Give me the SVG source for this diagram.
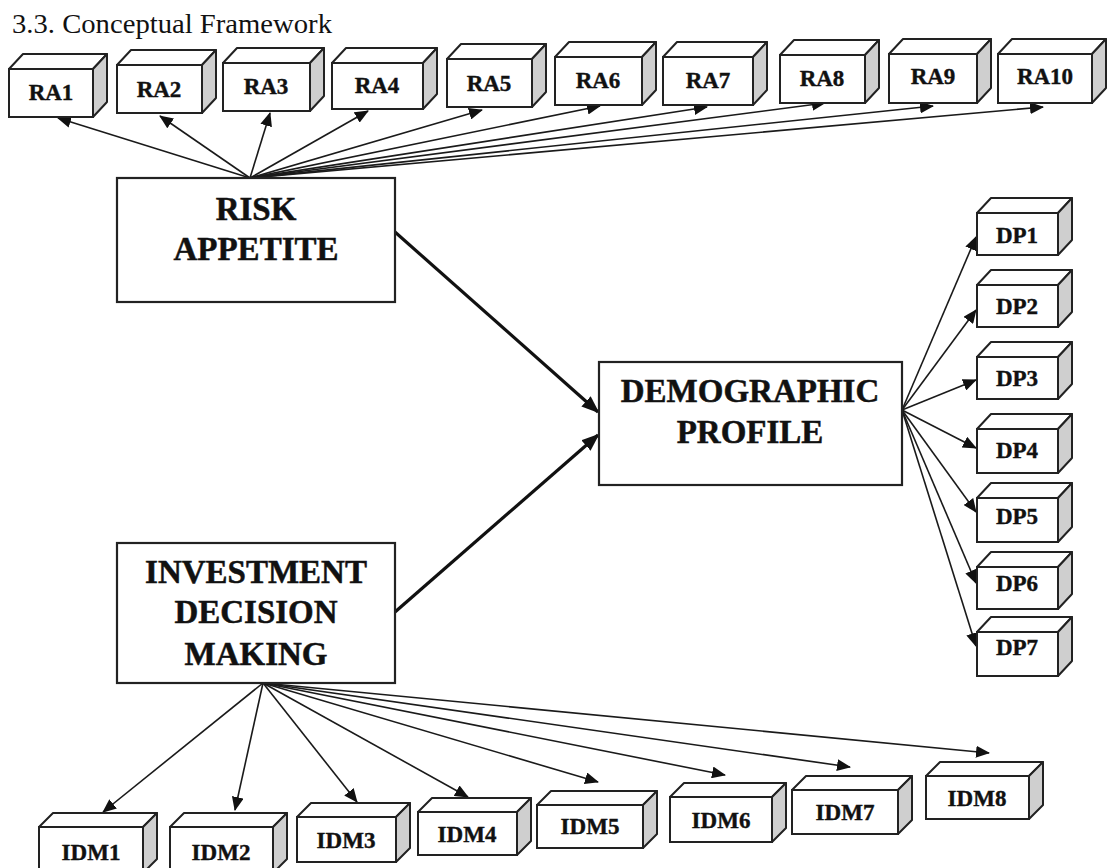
<svg xmlns="http://www.w3.org/2000/svg" width="1107" height="868" viewBox="0 0 1107 868">
<style>
.bg{fill:#fff}
.front{fill:#fff;stroke:#222;stroke-width:2}
.top{fill:#fff;stroke:#222;stroke-width:2;stroke-linejoin:round}
.side{fill:#cfcfcf;stroke:#222;stroke-width:2;stroke-linejoin:round}
.main{fill:#fff;stroke:#222;stroke-width:2.2}
.lbl{font-family:"Liberation Serif","Times New Roman",serif;font-weight:bold;font-size:23px;fill:#111;stroke:#111;stroke-width:0.4;text-anchor:middle}
.big{font-family:"Liberation Serif","Times New Roman",serif;font-weight:bold;font-size:33px;fill:#111;stroke:#111;stroke-width:0.5;text-anchor:middle}
.title{font-family:"Liberation Serif","Times New Roman",serif;font-size:28px;fill:#111}
.thin{stroke:#1a1a1a;stroke-width:1.6;fill:none;marker-end:url(#ah)}
.thick{stroke:#111;stroke-width:3.2;fill:none;marker-end:url(#ahb)}
</style>
<defs>
<marker id="ah" markerUnits="userSpaceOnUse" markerWidth="14" markerHeight="12" refX="13" refY="6" orient="auto">
<path d="M0,0 L14,6 L0,12 z" fill="#111"/>
</marker>
<marker id="ahb" markerUnits="userSpaceOnUse" markerWidth="18" markerHeight="14" refX="16" refY="7" orient="auto">
<path d="M0,0 L18,7 L0,14 z" fill="#111"/>
</marker>
</defs>
<rect class="bg" x="0" y="0" width="1107" height="868"/>
<text class="title" x="12" y="33" textLength="320" lengthAdjust="spacingAndGlyphs">3.3. Conceptual Framework</text>

<g id="connectors">
<line class="thin" x1="250" y1="178" x2="58" y2="118"/>
<line class="thin" x1="250" y1="178" x2="160" y2="116"/>
<line class="thin" x1="250" y1="178" x2="270" y2="113"/>
<line class="thin" x1="250" y1="178" x2="368" y2="111"/>
<line class="thin" x1="250" y1="178" x2="482" y2="110"/>
<line class="thin" x1="250" y1="178" x2="600" y2="106"/>
<line class="thin" x1="250" y1="178" x2="707" y2="107"/>
<line class="thin" x1="250" y1="178" x2="825" y2="103"/>
<line class="thin" x1="250" y1="178" x2="933" y2="106"/>
<line class="thin" x1="250" y1="178" x2="1043" y2="107"/>
<line class="thick" x1="395" y1="232" x2="598" y2="412"/>
<line class="thick" x1="395" y1="612" x2="598" y2="435"/>
<line class="thin" x1="902" y1="410" x2="976" y2="237"/>
<line class="thin" x1="902" y1="410" x2="976" y2="310"/>
<line class="thin" x1="902" y1="410" x2="976" y2="380"/>
<line class="thin" x1="902" y1="410" x2="976" y2="448"/>
<line class="thin" x1="902" y1="410" x2="976" y2="512"/>
<line class="thin" x1="902" y1="410" x2="976" y2="583"/>
<line class="thin" x1="902" y1="410" x2="976" y2="646"/>
<line class="thin" x1="263" y1="683" x2="103" y2="812"/>
<line class="thin" x1="263" y1="683" x2="235" y2="810"/>
<line class="thin" x1="263" y1="683" x2="357" y2="802"/>
<line class="thin" x1="263" y1="683" x2="468" y2="797"/>
<line class="thin" x1="263" y1="683" x2="598" y2="782"/>
<line class="thin" x1="263" y1="683" x2="725" y2="775"/>
<line class="thin" x1="263" y1="683" x2="850" y2="767"/>
<line class="thin" x1="263" y1="683" x2="989" y2="753"/>
</g>

<g id="risk-appetite">
<rect class="main" x="117" y="178" width="278" height="124"/>
<text class="big" x="256" y="220">RISK</text>
<text class="big" x="256" y="260">APPETITE</text>
</g>
<g id="investment-decision-making">
<rect class="main" x="117" y="543" width="278" height="140"/>
<text class="big" x="256" y="583">INVESTMENT</text>
<text class="big" x="256" y="623">DECISION</text>
<text class="big" x="256" y="665">MAKING</text>
</g>
<g id="demographic-profile">
<rect class="main" x="599" y="362" width="303" height="123"/>
<text class="big" x="750" y="402">DEMOGRAPHIC</text>
<text class="big" x="750" y="443">PROFILE</text>
</g>

<g id="RA1"><polygon class="top" points="9,69 23,54 107,54 93,69"/><polygon class="side" points="93,69 107,54 107,102 93,117"/><rect class="front" x="9" y="69" width="84" height="48"/><text class="lbl" x="51" y="100">RA1</text></g>
<g id="RA2"><polygon class="top" points="117,65 131,50 216,50 202,65"/><polygon class="side" points="202,65 216,50 216,98 202,113"/><rect class="front" x="117" y="65" width="85" height="48"/><text class="lbl" x="159" y="97">RA2</text></g>
<g id="RA3"><polygon class="top" points="223,63 237,48 324,48 310,63"/><polygon class="side" points="310,63 324,48 324,96 310,111"/><rect class="front" x="223" y="63" width="87" height="48"/><text class="lbl" x="266" y="94">RA3</text></g>
<g id="RA4"><polygon class="top" points="332,63 346,48 437,48 423,63"/><polygon class="side" points="423,63 437,48 437,94 423,109"/><rect class="front" x="332" y="63" width="91" height="46"/><text class="lbl" x="377" y="93">RA4</text></g>
<g id="RA5"><polygon class="top" points="447,59 461,44 546,44 532,59"/><polygon class="side" points="532,59 546,44 546,92 532,107"/><rect class="front" x="447" y="59" width="85" height="48"/><text class="lbl" x="489" y="91">RA5</text></g>
<g id="RA6"><polygon class="top" points="555,57 569,42 656,42 642,57"/><polygon class="side" points="642,57 656,42 656,90 642,105"/><rect class="front" x="555" y="57" width="87" height="48"/><text class="lbl" x="598" y="88">RA6</text></g>
<g id="RA7"><polygon class="top" points="663,57 677,42 767,42 753,57"/><polygon class="side" points="753,57 767,42 767,90 753,105"/><rect class="front" x="663" y="57" width="90" height="48"/><text class="lbl" x="708" y="88">RA7</text></g>
<g id="RA8"><polygon class="top" points="780,55 794,40 879,40 865,55"/><polygon class="side" points="865,55 879,40 879,88 865,103"/><rect class="front" x="780" y="55" width="85" height="48"/><text class="lbl" x="822" y="86">RA8</text></g>
<g id="RA9"><polygon class="top" points="889,54 903,39 991,39 977,54"/><polygon class="side" points="977,54 991,39 991,88 977,103"/><rect class="front" x="889" y="54" width="88" height="49"/><text class="lbl" x="933" y="84">RA9</text></g>
<g id="RA10"><polygon class="top" points="998,54 1012,39 1106,39 1092,54"/><polygon class="side" points="1092,54 1106,39 1106,88 1092,103"/><rect class="front" x="998" y="54" width="94" height="49"/><text class="lbl" x="1045" y="84">RA10</text></g>

<g id="DP1"><polygon class="top" points="977,213 991,198 1072,198 1058,213"/><polygon class="side" points="1058,213 1072,198 1072,240 1058,255"/><rect class="front" x="977" y="213" width="81" height="42"/><text class="lbl" x="1017" y="243">DP1</text></g>
<g id="DP2"><polygon class="top" points="977,285 991,270 1072,270 1058,285"/><polygon class="side" points="1058,285 1072,270 1072,312 1058,327"/><rect class="front" x="977" y="285" width="81" height="42"/><text class="lbl" x="1017" y="314">DP2</text></g>
<g id="DP3"><polygon class="top" points="977,357 991,342 1072,342 1058,357"/><polygon class="side" points="1058,357 1072,342 1072,384 1058,399"/><rect class="front" x="977" y="357" width="81" height="42"/><text class="lbl" x="1017" y="386">DP3</text></g>
<g id="DP4"><polygon class="top" points="977,429 991,414 1072,414 1058,429"/><polygon class="side" points="1058,429 1072,414 1072,458 1058,473"/><rect class="front" x="977" y="429" width="81" height="44"/><text class="lbl" x="1017" y="458">DP4</text></g>
<g id="DP5"><polygon class="top" points="977,498 991,483 1072,483 1058,498"/><polygon class="side" points="1058,498 1072,483 1072,527 1058,542"/><rect class="front" x="977" y="498" width="81" height="44"/><text class="lbl" x="1017" y="524">DP5</text></g>
<g id="DP6"><polygon class="top" points="977,567 991,552 1072,552 1058,567"/><polygon class="side" points="1058,567 1072,552 1072,594 1058,609"/><rect class="front" x="977" y="567" width="81" height="42"/><text class="lbl" x="1017" y="591">DP6</text></g>
<g id="DP7"><polygon class="top" points="977,632 991,617 1072,617 1058,632"/><polygon class="side" points="1058,632 1072,617 1072,661 1058,676"/><rect class="front" x="977" y="632" width="81" height="44"/><text class="lbl" x="1017" y="655">DP7</text></g>

<g id="IDM1"><polygon class="top" points="39,827 53,813 157,813 143,827"/><polygon class="side" points="143,827 157,813 157,859 143,873"/><rect class="front" x="39" y="827" width="104" height="46"/><text class="lbl" x="91" y="860">IDM1</text></g>
<g id="IDM2"><polygon class="top" points="170,827 184,813 287,813 273,827"/><polygon class="side" points="273,827 287,813 287,859 273,873"/><rect class="front" x="170" y="827" width="103" height="46"/><text class="lbl" x="221" y="860">IDM2</text></g>
<g id="IDM3"><polygon class="top" points="297,817 311,803 410,803 396,817"/><polygon class="side" points="396,817 410,803 410,848 396,862"/><rect class="front" x="297" y="817" width="99" height="45"/><text class="lbl" x="346" y="848">IDM3</text></g>
<g id="IDM4"><polygon class="top" points="418,812 432,798 531,798 517,812"/><polygon class="side" points="517,812 531,798 531,841 517,855"/><rect class="front" x="418" y="812" width="99" height="43"/><text class="lbl" x="467" y="842">IDM4</text></g>
<g id="IDM5"><polygon class="top" points="537,805 551,791 657,791 643,805"/><polygon class="side" points="643,805 657,791 657,834 643,848"/><rect class="front" x="537" y="805" width="106" height="43"/><text class="lbl" x="590" y="834">IDM5</text></g>
<g id="IDM6"><polygon class="top" points="670,797 684,783 786,783 772,797"/><polygon class="side" points="772,797 786,783 786,828 772,842"/><rect class="front" x="670" y="797" width="102" height="45"/><text class="lbl" x="721" y="828">IDM6</text></g>
<g id="IDM7"><polygon class="top" points="792,790 806,776 912,776 898,790"/><polygon class="side" points="898,790 912,776 912,820 898,834"/><rect class="front" x="792" y="790" width="106" height="44"/><text class="lbl" x="845" y="820">IDM7</text></g>
<g id="IDM8"><polygon class="top" points="926,776 940,762 1043,762 1029,776"/><polygon class="side" points="1029,776 1043,762 1043,805 1029,819"/><rect class="front" x="926" y="776" width="103" height="43"/><text class="lbl" x="977" y="806">IDM8</text></g>
</svg>
